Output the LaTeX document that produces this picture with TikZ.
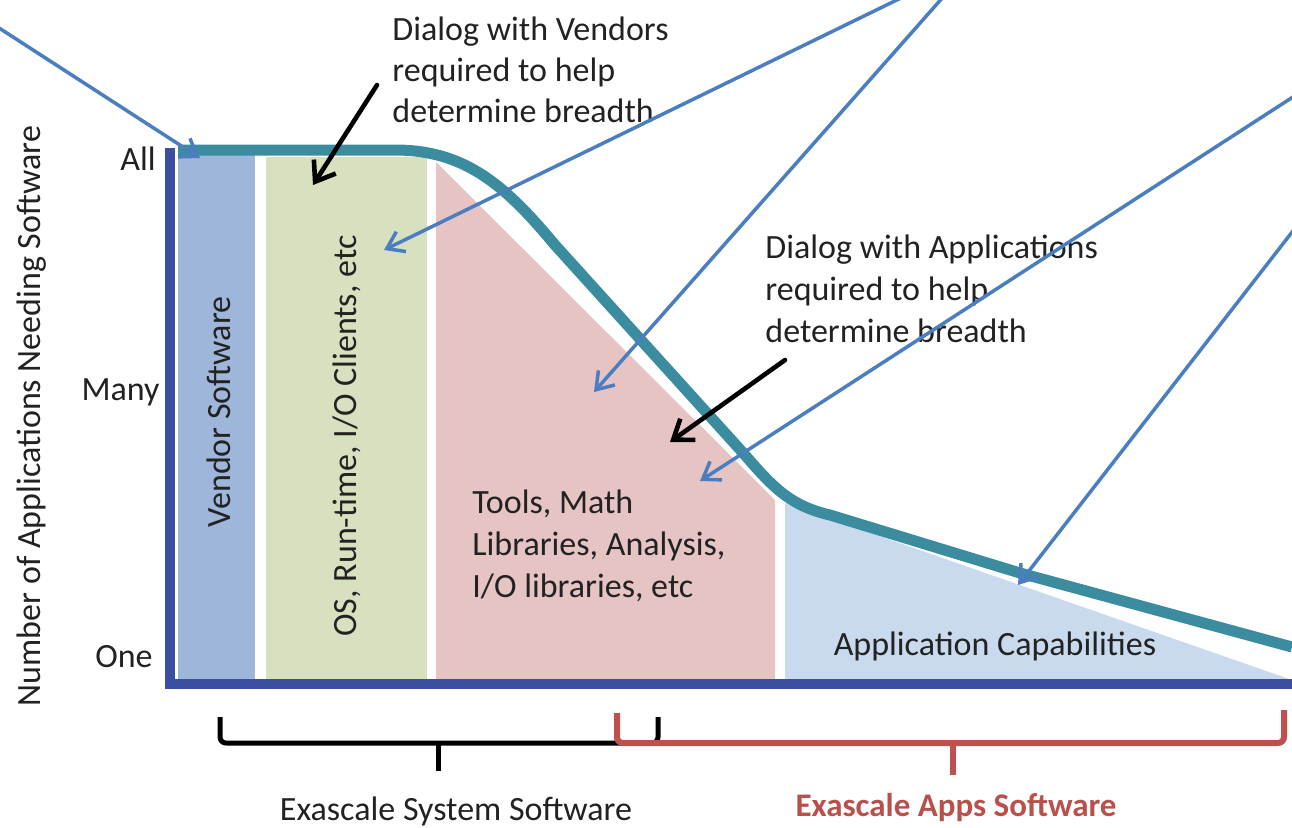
\documentclass[tikz,border=0pt]{standalone}
\usepackage{fontspec}
\setmainfont{Carlito}
\usetikzlibrary{arrows.meta}

\definecolor{axisblue}{HTML}{3B4FA0}
\definecolor{curveteal}{HTML}{3A8C9E}
\definecolor{pointerblue}{HTML}{4A7EC0}
\definecolor{vendorfill}{HTML}{9DB6DA}
\definecolor{osfill}{HTML}{D8E1BF}
\definecolor{toolfill}{HTML}{E6C4C4}
\definecolor{appfill}{HTML}{C9DAEF}
\definecolor{textgray}{HTML}{222222}
\definecolor{appsred}{HTML}{C0504D}
\definecolor{appstext}{HTML}{B8504C}

\begin{document}
\begin{tikzpicture}[x=0.5pt,y=-0.5pt,
  lbl/.style={inner sep=0pt, text=textgray, font=\fontsize{17}{20.5}\selectfont},
  blocklbl/.style={lbl, font=\fontsize{17}{21}\selectfont},
  pointer/.style={draw=pointerblue, line width=1.75pt, line cap=round,
    -{Straight Barb[length=8pt,width=11pt]}},
  callout/.style={draw=black, line width=2.3pt, line cap=round,
    -{Straight Barb[length=9pt,width=13pt]}},
  sysbrace/.style={draw=black, line width=2.5pt, rounded corners=3pt},
  appbrace/.style={draw=appsred, line width=3pt, rounded corners=3pt},
  axisline/.style={draw=axisblue, line width=4.6pt},
  curve/.style={draw=curveteal, line width=5.5pt}]

\useasboundingbox (0,0) rectangle (1292,827);
\clip (0,0) rectangle (1292,827);

% software layers under the curve
\fill[vendorfill] (178,153) rectangle (255,680);
\fill[osfill] (266,157) rectangle (427,680);
\fill[toolfill] (436,162) -- (775,500) -- (775,680) -- (436,680) -- cycle;
\fill[appfill] (785,503) -- (1292,680) -- (785,680) -- cycle;

% axes
\draw[axisline] (170,148) -- (170,684) -- (1292,684);

% number of applications needing each kind of software
\draw[curve] (178,150) -- (395,150)
  .. controls (465,150) and (505,185) .. (555,245)
  -- (745,455)
  .. controls (775,490) and (792,506) .. (830,515)
  -- (1020,573) -- (1292,647);

% axis labels
\node[lbl, anchor=base east] (all) at (156,170) {All};
\node[lbl, anchor=base east] (many) at (160,400) {Many};
\node[lbl, anchor=base east] (one) at (153,667) {One};
\node[lbl, rotate=90, anchor=base] (ytitle) at (40,416)
  {Number of Applications Needing Software};

% layer labels
\node[lbl, rotate=90, anchor=base] (vendor) at (230,412) {Vendor Software};
\node[lbl, rotate=90, anchor=base] (os) at (356,436) {OS, Run-time, I/O Clients, etc};
\node[blocklbl, anchor=base west] (tools) at (472,513)
  {\begin{tabular}[t]{@{}l@{}}Tools, Math\\Libraries, Analysis,\\I/O libraries, etc\end{tabular}};
\node[lbl, anchor=base] (appcap) at (995,655) {Application Capabilities};

% dialog notes
\node[lbl, anchor=base west] (dlgvend) at (392,40)
  {\begin{tabular}[t]{@{}l@{}}Dialog with Vendors\\required to help\\determine breadth\end{tabular}};
\node[blocklbl, anchor=base west] (dlgapp) at (765,258)
  {\begin{tabular}[t]{@{}l@{}}Dialog with Applications\\required to help\\determine breadth\end{tabular}};

% black callouts from the dialog notes
\coordinate (cv0) at (377,85);
\coordinate (cv1) at (313,185);
\coordinate (ca0) at (785,360);
\coordinate (ca1) at (670,442);
\draw[callout] (cv0) -- (cv1);
\draw[callout] (ca0) -- (ca1);

% blue pointers entering from outside
\coordinate (b1s) at (-4,26);
\coordinate (b1e) at (200,158);
\coordinate (b2s) at (905,-4);
\coordinate (b2e) at (384,250);
\coordinate (b3s) at (944,-4);
\coordinate (b3e) at (594,392);
\coordinate (b4s) at (1296,95);
\coordinate (b4e) at (700,481);
\coordinate (b5s) at (1296,227);
\coordinate (b5e) at (1018,585);
\draw[pointer] (b1s) -- (b1e);
\draw[pointer] (b2s) -- (b2e);
\draw[pointer] (b3s) -- (b3e);
\draw[pointer] (b4s) -- (b4e);
\draw[pointer] (b5s) -- (b5e);

% brackets for the two software groups
\coordinate (s0) at (220,717);
\coordinate (s1) at (658,717);
\coordinate (smid) at (438,743);
\coordinate (stail) at (438,771);
\draw[sysbrace] (s0) -- (220,743) -- (658,743) -- (s1);
\draw[sysbrace] (smid) -- (stail);
\coordinate (a0) at (617,713);
\coordinate (a1) at (1284,710);
\coordinate (amid) at (953,743);
\coordinate (atail) at (953,775);
\draw[appbrace] (a0) -- (617,743) -- (1284,743) -- (a1);
\draw[appbrace] (amid) -- (atail);

\node[lbl, anchor=base] (syssw) at (456,820) {Exascale System Software};
\node[lbl, anchor=base, text=appstext, font=\fontsize{16.5}{20}\selectfont\bfseries]
  (appsw) at (956,816) {Exascale Apps Software};

\end{tikzpicture}
\end{document}
